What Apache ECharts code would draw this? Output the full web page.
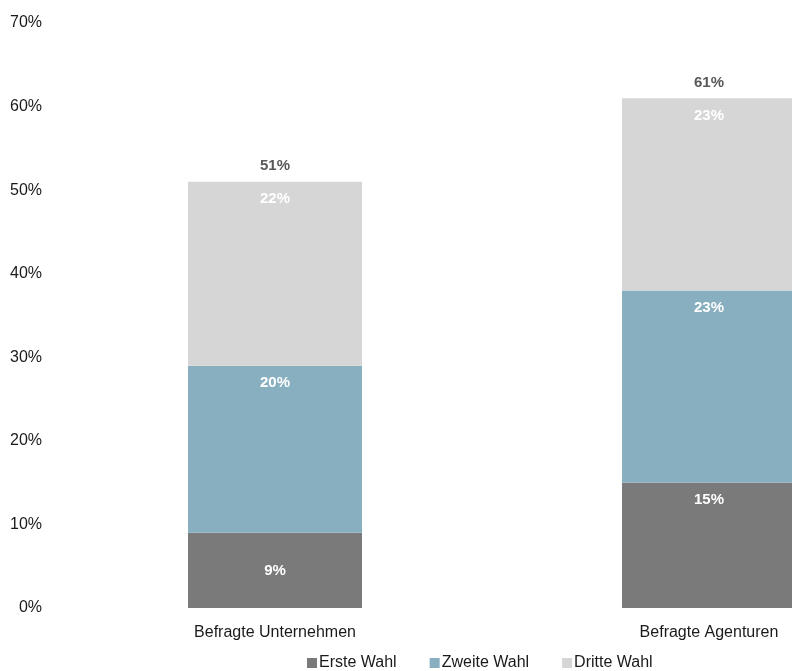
<!DOCTYPE html>
<html>
<head>
<meta charset="utf-8">
<script src="https://cdn.jsdelivr.net/npm/echarts@6/dist/echarts.min.js"></script>
<style>
  html, body { margin: 0; padding: 0; background: #fff; }
  #chart { width: 792px; height: 671px; }
</style>
</head>
<body>
<div id="chart"></div>
<script>
// Survey groups and shares (%) for first, second and third choice
const categories = ['Befragte Unternehmen', 'Befragte Agenturen'];
const ersteWahl = [9, 15];
const zweiteWahl = [20, 23];
const dritteWahl = [22, 23];
const yTicks = [0, 10, 20, 30, 40, 50, 60, 70];

const seriesNames = ['Erste Wahl', 'Zweite Wahl', 'Dritte Wahl'];
const seriesColors = ['#7a7a7a', '#87afc0', '#d6d6d6'];
const totals = categories.map((_, i) => ersteWahl[i] + zweiteWahl[i] + dritteWahl[i]);

const font = 'Liberation Sans, Arial, sans-serif';
const BAR_W = 174;

function segment(name, values, color) {
  return {
    name: name,
    type: 'bar',
    stack: 'wahl',
    barWidth: BAR_W,
    itemStyle: { color: color },
    data: values.map(v => {
      const item = { value: v };
      // a short segment gets its label centred
      if (v < 10) item.label = { position: 'inside', distance: 0 };
      return item;
    }),
    label: {
      show: true,
      position: 'insideTop',
      distance: 10,
      formatter: '{c}%',
      color: '#ffffff',
      fontFamily: font,
      fontWeight: 'bold',
      fontSize: 15
    },
    emphasis: { disabled: true }
  };
}

const chart = echarts.init(document.getElementById('chart'), null, { renderer: 'canvas' });
chart.setOption({
  animation: false,
  backgroundColor: '#ffffff',
  textStyle: { fontFamily: font },
  // category ticks sit on the grid edges, so the bars are centred on them
  grid: { left: 275, right: 83, top: 23, bottom: 63, containLabel: false },
  legend: {
    data: seriesNames,
    bottom: -5,
    left: 302,
    itemWidth: 10,
    itemHeight: 10,
    itemGap: 33,
    icon: 'rect',
    textStyle: { fontFamily: font, fontSize: 16, color: '#1a1a1a', padding: [0, 0, 0, -3] }
  },
  xAxis: {
    type: 'category',
    data: categories,
    boundaryGap: false,
    axisLine: { show: false },
    axisTick: { show: false },
    axisLabel: { fontFamily: font, fontSize: 16, color: '#1a1a1a', margin: 17 }
  },
  yAxis: {
    type: 'value',
    min: yTicks[0],
    max: yTicks[yTicks.length - 1],
    interval: 10,
    splitLine: { show: false },
    axisLine: { show: false },
    axisTick: { show: false },
    axisLabel: { fontFamily: font, fontSize: 16, color: '#1a1a1a', margin: 233, formatter: '{value}%' }
  },
  series: [
    segment(seriesNames[0], ersteWahl, seriesColors[0]),
    segment(seriesNames[1], zweiteWahl, seriesColors[1]),
    segment(seriesNames[2], dritteWahl, seriesColors[2]),
    {
      // zero-height cap carrying the stack total
      name: 'Gesamt',
      type: 'bar',
      stack: 'wahl',
      barWidth: BAR_W,
      data: totals.map(() => 0),
      itemStyle: { color: 'transparent' },
      label: {
        show: true,
        position: 'top',
        distance: 8,
        formatter: p => totals[p.dataIndex] + '%',
        color: '#595959',
        fontFamily: font,
        fontWeight: 'bold',
        fontSize: 15
      },
      emphasis: { disabled: true }
    }
  ]
});
</script>
</body>
</html>
